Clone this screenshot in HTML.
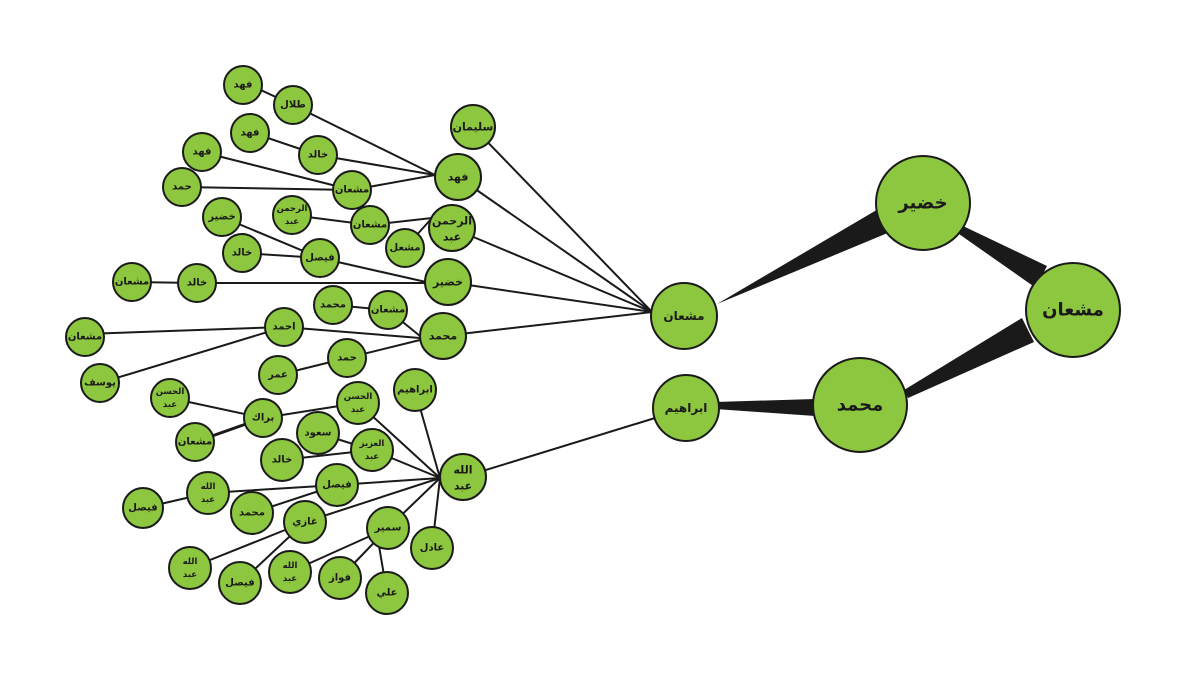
<!DOCTYPE html>
<html><head><meta charset="utf-8"><style>
html,body{margin:0;padding:0;background:#fff;}
svg{display:block;}
text{font-family:"DejaVu Sans","Noto Sans CJK SC",sans-serif;font-weight:bold;fill:#1a1a1a;text-anchor:middle;dominant-baseline:central;}
</style></head><body>
<svg width="1182" height="675" viewBox="0 0 1182 675" xmlns="http://www.w3.org/2000/svg">
<g stroke="#1a1a1a" stroke-width="2" fill="none">
<line x1="250" y1="85" x2="293" y2="105"/>
<line x1="293" y1="105" x2="435" y2="175"/>
<line x1="250" y1="132" x2="318" y2="155"/>
<line x1="318" y1="155" x2="435" y2="175"/>
<line x1="202" y1="152" x2="352" y2="190"/>
<line x1="182" y1="187" x2="352" y2="190"/>
<line x1="352" y1="190" x2="435" y2="175"/>
<line x1="473" y1="127" x2="652" y2="312"/>
<line x1="458" y1="177" x2="652" y2="312"/>
<line x1="292" y1="215" x2="370" y2="225"/>
<line x1="370" y1="225" x2="432" y2="218"/>
<line x1="405" y1="248" x2="432" y2="218"/>
<line x1="452" y1="228" x2="652" y2="312"/>
<line x1="222" y1="217" x2="320" y2="258"/>
<line x1="242" y1="253" x2="320" y2="258"/>
<line x1="320" y1="258" x2="426" y2="282"/>
<line x1="132" y1="282" x2="197" y2="283"/>
<line x1="197" y1="283" x2="426" y2="283"/>
<line x1="448" y1="282" x2="652" y2="312"/>
<line x1="333" y1="305" x2="388" y2="310"/>
<line x1="388" y1="310" x2="420" y2="336"/>
<line x1="85" y1="334" x2="284" y2="327"/>
<line x1="100" y1="383" x2="284" y2="327"/>
<line x1="284" y1="327" x2="420" y2="338"/>
<line x1="278" y1="375" x2="347" y2="358"/>
<line x1="347" y1="358" x2="420" y2="340"/>
<line x1="443" y1="336" x2="652" y2="312"/>
<line x1="170" y1="398" x2="263" y2="418"/>
<line x1="195" y1="442" x2="263" y2="418" stroke-width="3"/>
<line x1="263" y1="418" x2="358" y2="403"/>
<line x1="358" y1="403" x2="440" y2="478"/>
<line x1="415" y1="390" x2="440" y2="478"/>
<line x1="318" y1="433" x2="372" y2="450"/>
<line x1="282" y1="460" x2="372" y2="450"/>
<line x1="372" y1="450" x2="440" y2="478"/>
<line x1="143" y1="508" x2="208" y2="493"/>
<line x1="208" y1="493" x2="337" y2="485"/>
<line x1="252" y1="513" x2="337" y2="485"/>
<line x1="337" y1="485" x2="440" y2="478"/>
<line x1="190" y1="568" x2="305" y2="522"/>
<line x1="240" y1="583" x2="305" y2="522"/>
<line x1="305" y1="522" x2="440" y2="478"/>
<line x1="290" y1="572" x2="388" y2="528"/>
<line x1="340" y1="578" x2="388" y2="528"/>
<line x1="387" y1="593" x2="378" y2="540"/>
<line x1="388" y1="528" x2="440" y2="478"/>
<line x1="432" y1="548" x2="440" y2="478"/>
<line x1="463" y1="477" x2="655" y2="418"/>
</g>
<g fill="#1a1a1a">
<polygon points="717,304 880,208 890,232"/>
<polygon points="963,226 1047,266 1036,288 959,234"/>
<polygon points="1022,318 1034,342 908,398 904,390"/>
<polygon points="715,402 815,399 815,416 715,409"/>
</g>
<g fill="#8dc63f" stroke="#1a1a1a" stroke-width="2">
<circle cx="923" cy="203" r="47"/>
<circle cx="1073" cy="310" r="47"/>
<circle cx="860" cy="405" r="47"/>
<circle cx="684" cy="316" r="33"/>
<circle cx="686" cy="408" r="33"/>
<circle cx="458" cy="177" r="23"/>
<circle cx="452" cy="228" r="23"/>
<circle cx="448" cy="282" r="23"/>
<circle cx="443" cy="336" r="23"/>
<circle cx="463" cy="477" r="23"/>
<circle cx="473" cy="127" r="22"/>
<circle cx="243" cy="85" r="19"/><circle cx="293" cy="105" r="19"/>
<circle cx="250" cy="133" r="19"/><circle cx="318" cy="155" r="19"/>
<circle cx="202" cy="152" r="19"/><circle cx="182" cy="187" r="19"/>
<circle cx="352" cy="190" r="19"/><circle cx="222" cy="217" r="19"/>
<circle cx="292" cy="215" r="19"/><circle cx="370" cy="225" r="19"/>
<circle cx="405" cy="248" r="19"/><circle cx="242" cy="253" r="19"/>
<circle cx="320" cy="258" r="19"/><circle cx="132" cy="282" r="19"/>
<circle cx="197" cy="283" r="19"/><circle cx="333" cy="305" r="19"/>
<circle cx="388" cy="310" r="19"/><circle cx="284" cy="327" r="19"/>
<circle cx="85" cy="337" r="19"/><circle cx="100" cy="383" r="19"/>
<circle cx="278" cy="375" r="19"/><circle cx="347" cy="358" r="19"/>
<circle cx="415" cy="390" r="21"/><circle cx="170" cy="398" r="19"/>
<circle cx="263" cy="418" r="19"/><circle cx="358" cy="403" r="21"/>
<circle cx="195" cy="442" r="19"/><circle cx="318" cy="433" r="21"/>
<circle cx="372" cy="450" r="21"/><circle cx="282" cy="460" r="21"/>
<circle cx="337" cy="485" r="21"/><circle cx="208" cy="493" r="21"/>
<circle cx="143" cy="508" r="20"/><circle cx="252" cy="513" r="21"/>
<circle cx="305" cy="522" r="21"/><circle cx="388" cy="528" r="21"/>
<circle cx="432" cy="548" r="21"/><circle cx="190" cy="568" r="21"/>
<circle cx="240" cy="583" r="21"/><circle cx="290" cy="572" r="21"/>
<circle cx="340" cy="578" r="21"/><circle cx="387" cy="593" r="21"/>
</g>
<g font-size="18"><text x="923" y="203">خضير</text><text x="1073" y="310">مشعان</text><text x="860" y="405">محمد</text></g>
<g font-size="12"><text x="684" y="316">مشعان</text><text x="686" y="408">ابراهيم</text></g>
<g font-size="11">
<text x="458" y="177">فهد</text>
<text x="452" y="221">الرحمن</text><text x="452" y="237">عبد</text>
<text x="448" y="282">خضير</text>
<text x="443" y="336">محمد</text>
<text x="463" y="470">الله</text><text x="463" y="486">عبد</text>
<text x="473" y="127">سليمان</text>
</g>
<g font-size="10">
<text x="243" y="85">فهد</text><text x="293" y="105">طلال</text>
<text x="250" y="133">فهد</text><text x="318" y="155">خالد</text>
<text x="202" y="152">فهد</text><text x="182" y="187">حمد</text>
<text x="352" y="190">مشعان</text><text x="222" y="217">خضير</text>
<text x="370" y="225">مشعان</text><text x="405" y="248">مشعل</text>
<text x="242" y="253">خالد</text><text x="320" y="258">فيصل</text>
<text x="132" y="282">مشعان</text><text x="197" y="283">خالد</text>
<text x="333" y="305">محمد</text><text x="388" y="310">مشعان</text>
<text x="284" y="327">احمد</text><text x="85" y="337">مشعان</text>
<text x="100" y="383">يوسف</text><text x="278" y="375">عمر</text>
<text x="347" y="358">حمد</text><text x="415" y="390">ابراهيم</text>
<text x="263" y="418">براك</text><text x="195" y="442">مشعان</text>
<text x="318" y="433">سعود</text><text x="282" y="460">خالد</text>
<text x="337" y="485">فيصل</text><text x="143" y="508">فيصل</text>
<text x="252" y="513">محمد</text><text x="305" y="522">غازي</text>
<text x="388" y="528">سمير</text><text x="432" y="548">عادل</text>
<text x="240" y="583">فيصل</text><text x="340" y="578">فواز</text>
<text x="387" y="593">علي</text>
</g>
<g font-size="8.5">
<text x="292" y="209">الرحمن</text><text x="292" y="222">عبد</text>
<text x="170" y="392">الحسن</text><text x="170" y="405">عبد</text>
<text x="358" y="397">الحسن</text><text x="358" y="410">عبد</text>
<text x="372" y="444">العزيز</text><text x="372" y="457">عبد</text>
<text x="208" y="487">الله</text><text x="208" y="500">عبد</text>
<text x="190" y="562">الله</text><text x="190" y="575">عبد</text>
<text x="290" y="566">الله</text><text x="290" y="579">عبد</text>
</g>
</svg>
</body></html>
